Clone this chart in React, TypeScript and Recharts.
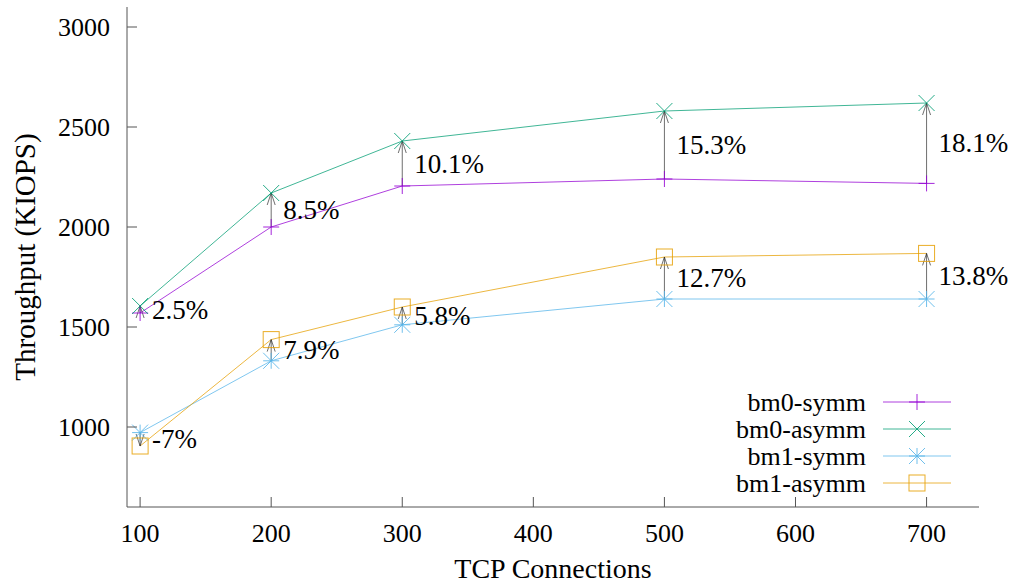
import React from 'react';
import { LineChart, Line, XAxis, YAxis, ReferenceLine, Customized } from 'recharts';

// ---- data ----
const connections = [100, 200, 300, 500, 700];
const bm0Symm = [1570, 2000, 2205, 2240, 2218];
const bm0Asymm = [1605, 2170, 2430, 2580, 2620];
const bm1Symm = [972, 1331, 1511, 1640, 1640];
const bm1Asymm = [905, 1437, 1600, 1850, 1868];
const bm0Gain = ['2.5%', '8.5%', '10.1%', '15.3%', '18.1%'];
const bm1Gain = ['-7%', '7.9%', '5.8%', '12.7%', '13.8%'];
const xTicks = [100, 200, 300, 400, 500, 600, 700];
const yTicks = [1000, 1500, 2000, 2500, 3000];
const xDomain = [90, 740];
const yDomain = [600, 3100];

const seriesNames = ['bm0-symm', 'bm0-asymm', 'bm1-symm', 'bm1-asymm'];
const seriesKeys = ['bm0Symm', 'bm0Asymm', 'bm1Symm', 'bm1Asymm'];
const seriesColors = ['#9400d3', '#009e73', '#56b4e9', '#e69f00'];
const seriesMarkers = ['plus', 'cross', 'star', 'square'];

const data = connections.map((c, i) => ({
  x: c,
  bm0Symm: bm0Symm[i],
  bm0Asymm: bm0Asymm[i],
  bm1Symm: bm1Symm[i],
  bm1Asymm: bm1Asymm[i],
}));

const FONT = "'Liberation Serif', 'Times New Roman', serif";
const AXIS = '#555';
const TICK_LEN = 10;

const txt = (size: number): React.CSSProperties => ({ fontFamily: FONT, fontSize: size, fill: '#000' });

function Marker({ type, cx, cy, color }: any) {
  const s = 8;
  const common = { stroke: color, strokeWidth: 1, fill: 'none', strokeOpacity: 0.85 };
  if (type === 'plus') {
    return (
      <g>
        <line x1={cx - s} x2={cx + s} y1={cy} y2={cy} {...common} />
        <line x1={cx} x2={cx} y1={cy - s} y2={cy + s} {...common} />
      </g>
    );
  }
  if (type === 'cross') {
    return (
      <g>
        <line x1={cx - s} x2={cx + s} y1={cy - s} y2={cy + s} {...common} />
        <line x1={cx - s} x2={cx + s} y1={cy + s} y2={cy - s} {...common} />
      </g>
    );
  }
  if (type === 'star') {
    return (
      <g>
        <line x1={cx - s} x2={cx + s} y1={cy} y2={cy} {...common} />
        <line x1={cx} x2={cx} y1={cy - s} y2={cy + s} {...common} />
        <line x1={cx - s} x2={cx + s} y1={cy - s} y2={cy + s} {...common} />
        <line x1={cx - s} x2={cx + s} y1={cy + s} y2={cy - s} {...common} />
      </g>
    );
  }
  return <rect x={cx - s} y={cy - s} width={2 * s} height={2 * s} {...common} />;
}

const BottomTick = (p: any) => (
  <g>
    <line x1={p.x} x2={p.x} y1={p.y} y2={p.y - TICK_LEN} stroke={AXIS} />
    <text x={p.x} y={p.y + 26} textAnchor="middle" dominantBaseline="central" style={txt(26)}>
      {p.payload.value}
    </text>
  </g>
);
const TopTick = (p: any) => <line x1={p.x} x2={p.x} y1={p.y} y2={p.y + TICK_LEN} stroke={AXIS} />;
const LeftTick = (p: any) => (
  <g>
    <line x1={p.x} x2={p.x + TICK_LEN} y1={p.y} y2={p.y} stroke={AXIS} />
    <text x={p.x - 17} y={p.y} textAnchor="end" dominantBaseline="central" style={txt(26)}>
      {p.payload.value}
    </text>
  </g>
);
const RightTick = (p: any) => <line x1={p.x} x2={p.x - TICK_LEN} y1={p.y} y2={p.y} stroke={AXIS} />;

function makeArrow(label: string) {
  return (p: any) => {
    const { x1, y1, x2, y2 } = p;
    const dir = y2 < y1 ? 1 : -1;
    const head = 12;
    const hw = 4;
    return (
      <g>
        <line x1={x1} y1={y1} x2={x2} y2={y2} stroke="#222" strokeOpacity={0.65} strokeWidth={1} />
        <polyline
          points={`${x2 - hw},${y2 + dir * head} ${x2},${y2} ${x2 + hw},${y2 + dir * head}`}
          stroke="#222"
          strokeOpacity={0.65}
          fill="none"
          strokeWidth={1}
        />
        <text x={x1 + 12} y={(y1 + y2) / 2} dominantBaseline="central" style={txt(27)}>
          {label}
        </text>
      </g>
    );
  };
}

const LegendBox = () => {
  const textRight = 866;
  const lineStart = 883;
  const lineEnd = 951;
  const top = 402;
  const step = 27;
  return (
    <g>
      {seriesNames.map((n, i) => {
        const y = top + i * step;
        return (
          <g key={n}>
            <text x={textRight} y={y} textAnchor="end" dominantBaseline="central" style={txt(26)}>
              {n}
            </text>
            <line x1={lineStart} x2={lineEnd} y1={y} y2={y} stroke={seriesColors[i]} strokeOpacity={0.75} />
            <Marker type={seriesMarkers[i]} cx={(lineStart + lineEnd) / 2} cy={y} color={seriesColors[i]} />
          </g>
        );
      })}
    </g>
  );
};

export default function App() {
  return (
    <div style={{ position: 'absolute', left: 0, top: 0, background: '#fff' }}>
      <LineChart width={1015} height={583} data={data} margin={{ top: 7, right: 36, bottom: 0, left: 0 }}>
        <XAxis
          dataKey="x"
          type="number"
          domain={xDomain}
          ticks={xTicks}
          interval={0}
          tickSize={0}
          tickMargin={0}
          tick={<BottomTick />}
          axisLine={{ stroke: AXIS }}
          height={76}
          allowDataOverflow
          label={{
            content: (p: any) => (
              <text
                x={p.viewBox.x + p.viewBox.width / 2}
                y={p.viewBox.y + 61}
                textAnchor="middle"
                dominantBaseline="central"
                style={txt(28)}
              >
                TCP Connections
              </text>
            ),
          }}
        />
        <XAxis
          xAxisId="top"
          orientation="top"
          dataKey="x"
          type="number"
          domain={xDomain}
          ticks={xTicks}
          interval={0}
          tickSize={0}
          tickMargin={0}
          tick={<TopTick />}
          axisLine={{ stroke: AXIS }}
          height={0}
          allowDataOverflow
        />
        <YAxis
          type="number"
          domain={yDomain}
          ticks={yTicks}
          interval={0}
          tickSize={0}
          tickMargin={0}
          tick={<LeftTick />}
          axisLine={{ stroke: AXIS }}
          width={127}
          allowDataOverflow
          label={{
            content: (p: any) => (
              <text
                transform={`translate(25, ${p.viewBox.y + p.viewBox.height / 2}) rotate(-90)`}
                textAnchor="middle"
                dominantBaseline="central"
                style={txt(29)}
              >
                Throughput (KIOPS)
              </text>
            ),
          }}
        />
        <YAxis
          yAxisId="right"
          orientation="right"
          type="number"
          domain={yDomain}
          ticks={yTicks}
          interval={0}
          tickSize={0}
          tickMargin={0}
          tick={<RightTick />}
          axisLine={{ stroke: AXIS }}
          width={0}
          allowDataOverflow
        />
        {seriesKeys.map((k, si) => (
          <Line
            key={k}
            dataKey={k}
            name={seriesNames[si]}
            type="linear"
            stroke={seriesColors[si]}
            strokeOpacity={0.75}
            strokeWidth={1}
            isAnimationActive={false}
            dot={(p: any) => (
              <Marker key={`${k}-${p.index}`} type={seriesMarkers[si]} cx={p.cx} cy={p.cy} color={seriesColors[si]} />
            )}
            activeDot={false}
          />
        ))}
        {connections.map((c, i) => (
          <ReferenceLine
            key={`a0-${c}`}
            segment={[
              { x: c, y: bm0Symm[i] },
              { x: c, y: bm0Asymm[i] },
            ]}
            shape={makeArrow(bm0Gain[i])}
            ifOverflow="visible"
          />
        ))}
        {connections.map((c, i) => (
          <ReferenceLine
            key={`a1-${c}`}
            segment={[
              { x: c, y: bm1Symm[i] },
              { x: c, y: bm1Asymm[i] },
            ]}
            shape={makeArrow(bm1Gain[i])}
            ifOverflow="visible"
          />
        ))}
        <Customized component={LegendBox} />
      </LineChart>
    </div>
  );
}
